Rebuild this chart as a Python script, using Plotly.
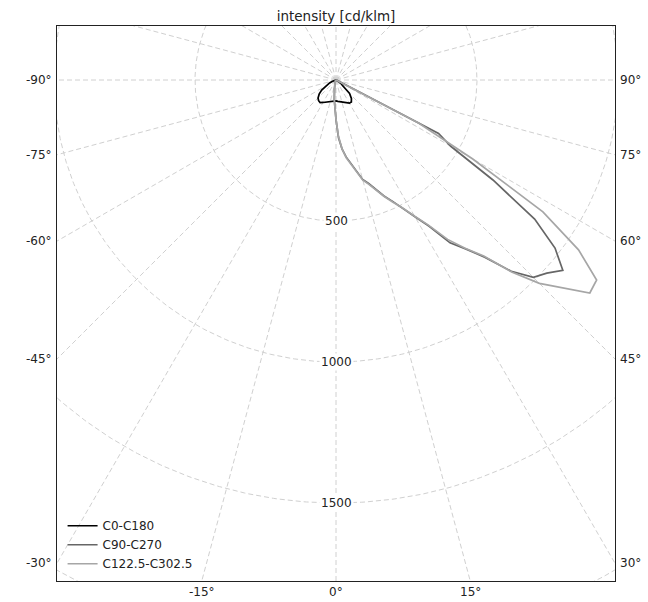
import numpy as np
import plotly.graph_objects as go

# ---- data (angle from nadir in degrees, intensity in cd/klm) ----
c0_angles = [-90, -80, -70, -65, -60, -55, -50, -45, -40, -35, -30, -25, -20, -15, -10, -5,
             0, 5, 10, 15, 20, 25, 30, 35, 40, 45, 50, 55, 60, 70, 80, 90]
c0_values = [0, 5, 15, 25, 40, 62, 78, 90, 96, 98, 92, 86, 82, 78, 75, 74,
             74, 76, 78, 80, 82, 87, 95, 95, 85, 68, 38, 20, 10, 4, 1, 0]

c90_angles = [-90, -60, -40, -20, -10, -5, -2.5, 0, 2.5, 5, 7.5, 10, 12.5, 15, 17.5, 20, 22.5,
              25, 27.5, 30, 32.5, 35, 37.5, 40, 42.5, 45, 47.5, 50, 52.5, 55, 57.5, 60,
              62.5, 65, 70, 80, 90]
c90_values = [0, 2, 3, 10, 30, 70, 100, 140, 205, 245, 275, 300, 325, 365, 385, 412, 445,
              475, 515, 560, 615, 705, 755, 820, 920, 990, 1014, 1050, 979, 860, 660, 470,
              410, 60, 15, 4, 0]

c122_angles = [-90, -60, -40, -20, -10, -5, -2.5, 0, 2.5, 5, 7.5, 10, 12.5, 15, 17.5, 20, 22.5,
               25, 27.5, 30, 32.5, 35, 37.5, 40, 42.5, 45, 47.5, 50, 52.5, 55, 57.5, 60,
               62.5, 65, 70, 80, 90]
c122_values = [0, 2, 3, 10, 30, 70, 100, 140, 200, 245, 278, 302, 328, 368, 388, 414, 447,
               478, 512, 558, 610, 690, 752, 815, 925, 1020, 1090, 1175, 1165, 1050, 870, 560,
               330, 40, 15, 4, 0]

series_names = ["C0-C180", "C90-C270", "C122.5-C302.5"]
series_colors = ["#000000", "#666666", "#a6a6a6"]

grid_radii = [500, 1000, 1500, 2000]
radial_labels = ["500", "1000", "1500"]
left_angles = [-90, -75, -60, -45, -30]
right_angles = [90, 75, 60, 45, 30]
bottom_angles = [-15, 0, 15]

X_RANGE = [-989.4, 989.4]
Y_RANGE = [-1776.6, 191.5]


def to_xy(ang_deg, r):
    a = np.radians(np.asarray(ang_deg, dtype=float))
    r = np.asarray(r, dtype=float)
    return r * np.sin(a), -r * np.cos(a)


fig = go.Figure()

grid_style = dict(color="#d0d0d0", width=1, dash="5px,3px")
# radial grid lines (every 15 degrees)
for a in range(0, 360, 15):
    gx, gy = to_xy([a, a], [0, 2600])
    fig.add_trace(go.Scatter(x=gx, y=gy, mode="lines", line=grid_style,
                             showlegend=False, hoverinfo="skip"))
# circles
th = np.linspace(0, 360, 721)
for rr in grid_radii:
    gx, gy = to_xy(th, np.full_like(th, rr))
    fig.add_trace(go.Scatter(x=gx, y=gy, mode="lines", line=grid_style,
                             showlegend=False, hoverinfo="skip"))

for name, color, angs, vals in zip(series_names, series_colors,
                                   [c0_angles, c90_angles, c122_angles],
                                   [c0_values, c90_values, c122_values]):
    x, y = to_xy(angs, vals)
    fig.add_trace(go.Scatter(x=x, y=y, mode="lines", name=name,
                             line=dict(color=color, width=1.7)))

annotations = []
for lab in radial_labels:
    annotations.append(dict(x=0, y=-float(lab), xref="x", yref="y", text=lab,
                            showarrow=False, bgcolor="white",
                            font=dict(size=12, color="#222")))
for a in left_angles:
    yv = -X_RANGE[0] * np.cos(np.radians(a)) / np.sin(np.radians(a))
    annotations.append(dict(x=0, y=float(yv), xref="paper", yref="y", text=f"{a}°",
                            showarrow=False, xanchor="right", xshift=-3,
                            font=dict(size=12, color="#222")))
for a in right_angles:
    yv = -X_RANGE[1] * np.cos(np.radians(a)) / np.sin(np.radians(a))
    annotations.append(dict(x=1, y=float(yv), xref="paper", yref="y", text=f"{a}°",
                            showarrow=False, xanchor="left", xshift=3,
                            font=dict(size=12, color="#222")))
for a in bottom_angles:
    xv = -Y_RANGE[0] * np.tan(np.radians(a))
    annotations.append(dict(x=float(xv), y=0, xref="x", yref="paper", text=f"{a}°",
                            showarrow=False, yanchor="top", yshift=-2,
                            font=dict(size=12, color="#222")))

fig.update_layout(
    width=648, height=602,
    margin=dict(l=57, r=33, t=26, b=21),
    paper_bgcolor="white", plot_bgcolor="white",
    font=dict(family="DejaVu Sans", size=12, color="#222"),
    title=dict(text="intensity [cd/klm]", x=0.5, xref="paper", xanchor="center",
               y=1, yref="paper", yanchor="bottom", pad=dict(b=5),
               font=dict(size=13.5, color="#222")),
    xaxis=dict(range=X_RANGE, showgrid=False, zeroline=False, showticklabels=False,
               ticks="", showline=True, linecolor="#222", linewidth=1, mirror=True),
    yaxis=dict(range=Y_RANGE, showgrid=False, zeroline=False, showticklabels=False,
               ticks="", showline=True, linecolor="#222", linewidth=1, mirror=True),
    legend=dict(x=0.01, y=0.005, xanchor="left", yanchor="bottom",
                bgcolor="rgba(0,0,0,0)", font=dict(size=12, color="#222"),
                tracegroupgap=0, itemwidth=30),
    annotations=annotations,
    showlegend=True,
)

fig.write_html("out.html")
